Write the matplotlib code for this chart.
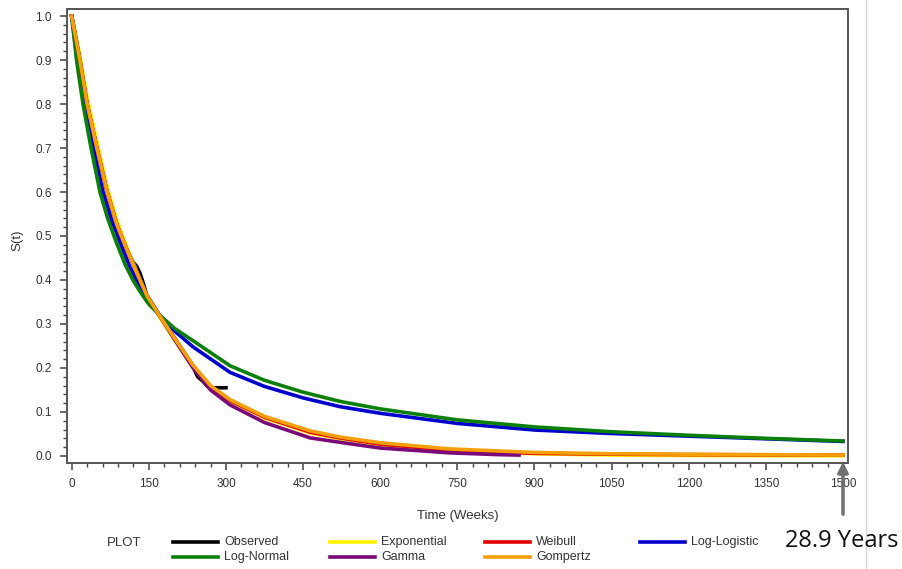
import matplotlib
matplotlib.use("Agg")
import matplotlib.pyplot as plt
from matplotlib.lines import Line2D
from matplotlib.ticker import MultipleLocator

plt.rcParams['font.family'] = ['Liberation Sans', 'DejaVu Sans']

# ---------------- data ----------------
series_names = ["Observed", "Exponential", "Weibull", "Log-Logistic",
                "Log-Normal", "Gamma", "Gompertz"]
series_colors = ["#000000", "#FFF200", "#E00000", "#0000CC",
                 "#0A800A", "#7A0A7A", "#F5A00A"]

obs_t = [0, 16, 30, 49, 69, 88, 107, 120, 127, 133, 140, 146, 160, 173,
         200, 235, 245, 255, 265, 275, 300]
obs_s = [1.0, 0.90, 0.80, 0.70, 0.60, 0.525, 0.47, 0.44, 0.43, 0.415,
         0.39, 0.365, 0.34, 0.315, 0.268, 0.205, 0.18, 0.17, 0.157, 0.155,
         0.155]

exp_t = [0, 16, 30, 49, 69, 88, 107, 127, 146, 173, 200, 235, 270, 308,
         375, 464, 522, 600, 736, 900, 1050, 1200, 1350, 1500]
exp_s = [1.0, 0.91, 0.815, 0.715, 0.61, 0.535, 0.475, 0.418, 0.365,
         0.312, 0.264, 0.203, 0.155, 0.124, 0.086, 0.052, 0.039, 0.025,
         0.012, 0.005, 0.002, 0.001, 0.0005, 0.0003]

wei_t = [0, 16, 30, 49, 69, 88, 107, 127, 146, 173, 200, 235, 270, 308,
         375, 464, 522, 600, 736, 900, 1050, 1200, 1350, 1500]
wei_s = [1.0, 0.90, 0.80, 0.70, 0.60, 0.525, 0.47, 0.415, 0.365, 0.315,
         0.268, 0.207, 0.158, 0.126, 0.088, 0.054, 0.041, 0.027, 0.013,
         0.006, 0.004, 0.003, 0.0025, 0.002]

llog_t = [0, 10, 25, 40, 61, 78, 96, 113, 135, 150, 173, 200, 236, 308,
          375, 450, 522, 600, 750, 900, 1050, 1200, 1350, 1500]
llog_s = [1.0, 0.905, 0.80, 0.71, 0.60, 0.535, 0.48, 0.43, 0.38, 0.352,
          0.317, 0.284, 0.248, 0.19, 0.158, 0.132, 0.112, 0.097, 0.074,
          0.059, 0.051, 0.045, 0.039, 0.033]

lnorm_t = [0, 10, 22, 36, 55, 70, 87, 104, 120, 135, 150, 173, 200, 236,
           308, 375, 450, 522, 600, 750, 900, 1050, 1200, 1350, 1500]
lnorm_s = [1.0, 0.895, 0.80, 0.71, 0.60, 0.54, 0.485, 0.435, 0.398, 0.37,
           0.345, 0.318, 0.29, 0.262, 0.205, 0.172, 0.145, 0.124, 0.107,
           0.082, 0.066, 0.055, 0.047, 0.040, 0.034]

gam_t = [0, 16, 30, 49, 69, 88, 107, 127, 146, 173, 200, 235, 270, 308,
         375, 464, 522, 600, 736, 830, 870]
gam_s = [1.0, 0.90, 0.80, 0.70, 0.60, 0.525, 0.47, 0.415, 0.365, 0.315,
         0.265, 0.202, 0.150, 0.116, 0.076, 0.041, 0.031, 0.018, 0.007,
         0.003, 0.002]

gomp_t = [0, 16, 30, 49, 69, 88, 107, 127, 146, 173, 200, 235, 270, 308,
          375, 464, 522, 600, 736, 900, 1050, 1200, 1350, 1500]
gomp_s = [1.0, 0.90, 0.80, 0.70, 0.60, 0.525, 0.47, 0.415, 0.365, 0.315,
          0.268, 0.208, 0.160, 0.128, 0.090, 0.057, 0.043, 0.030, 0.016,
          0.008, 0.005, 0.004, 0.003, 0.002]

x_ticks = [0, 150, 300, 450, 600, 750, 900, 1050, 1200, 1350, 1500]
y_ticks = [0.0, 0.1, 0.2, 0.3, 0.4, 0.5, 0.6, 0.7, 0.8, 0.9, 1.0]

# ---------------- figure ----------------
W, H = 903, 569
fig = plt.figure(figsize=(W / 100, H / 100), dpi=100)
ax = fig.add_axes([67 / W, 1 - 463 / H, (848 - 67) / W, (463 - 9) / H])

lw = 2.6
ax.plot(obs_t, obs_s, color=series_colors[0], lw=lw, zorder=2)
ax.plot(exp_t, exp_s, color=series_colors[1], lw=lw, zorder=3)
ax.plot(wei_t, wei_s, color=series_colors[2], lw=lw, zorder=4)
ax.plot(llog_t, llog_s, color=series_colors[3], lw=lw, zorder=5)
ax.plot(lnorm_t, lnorm_s, color=series_colors[4], lw=lw, zorder=6)
ax.plot(gam_t, gam_s, color=series_colors[5], lw=lw, zorder=7)
ax.plot(gomp_t, gomp_s, color=series_colors[6], lw=lw, zorder=8)

ax.set_xlim(-9.1, 1509.7)
ax.set_ylim(-0.016, 1.016)
ax.set_xticks(x_ticks)
ax.set_yticks(y_ticks)
ax.set_yticklabels([f"{v:.1f}" for v in y_ticks])
ax.xaxis.set_minor_locator(MultipleLocator(30))
ax.yaxis.set_minor_locator(MultipleLocator(0.02))
ax.tick_params(axis="both", which="major", direction="out", length=5,
               width=1.1, color="#444444", labelsize=8.5,
               labelcolor="#333333", pad=6)
ax.tick_params(axis="both", which="minor", direction="out", length=3,
               width=1.0, color="#444444")
for sp in ax.spines.values():
    sp.set_color("#555555")
    sp.set_linewidth(1.4)

ax.set_xlabel("Time (Weeks)", fontsize=9.5, color="#333333", labelpad=14)
fig.text(17 / W, 1 - 240 / H, "S(t)", rotation=90, fontsize=9.5,
         color="#333333", ha="center", va="center")

# ---------------- legend ----------------
fig.text(107 / W, 1 - 543 / H, "PLOT", fontsize=9.5, color="#333333",
         ha="left", va="center")
col_x = [173, 330, 485, 640]
row_y = [542, 557]
for i, (name, col) in enumerate(zip(series_names, series_colors)):
    r, c = divmod(i, 4)
    x0 = col_x[c]
    y0 = 1 - row_y[r] / H
    fig.add_artist(Line2D([x0 / W, (x0 + 45) / W], [y0, y0], color=col,
                          lw=2.6, transform=fig.transFigure))
    fig.text((x0 + 51) / W, y0, name, fontsize=9, color="#333333",
             ha="left", va="center")

# ---------------- annotation ----------------
ax.annotate("", xy=(843 / W, 1 - 459 / H), xytext=(843 / W, 1 - 517 / H),
            xycoords="figure fraction", textcoords="figure fraction",
            arrowprops=dict(arrowstyle="-|>,head_length=0.6,head_width=0.3",
                        color="#707070", lw=2.5),
            annotation_clip=False)
fig.text(842 / W, 1 - 541 / H, "28.9 Years", fontsize=17, color="#111111",
         ha="center", va="center", family=["Open Sans", "DejaVu Sans"])

fig.add_artist(Line2D([866 / W, 866 / W], [0, 1], color="#d5d5d5", lw=1,
                      transform=fig.transFigure))

fig.savefig("out.png", dpi=100)
